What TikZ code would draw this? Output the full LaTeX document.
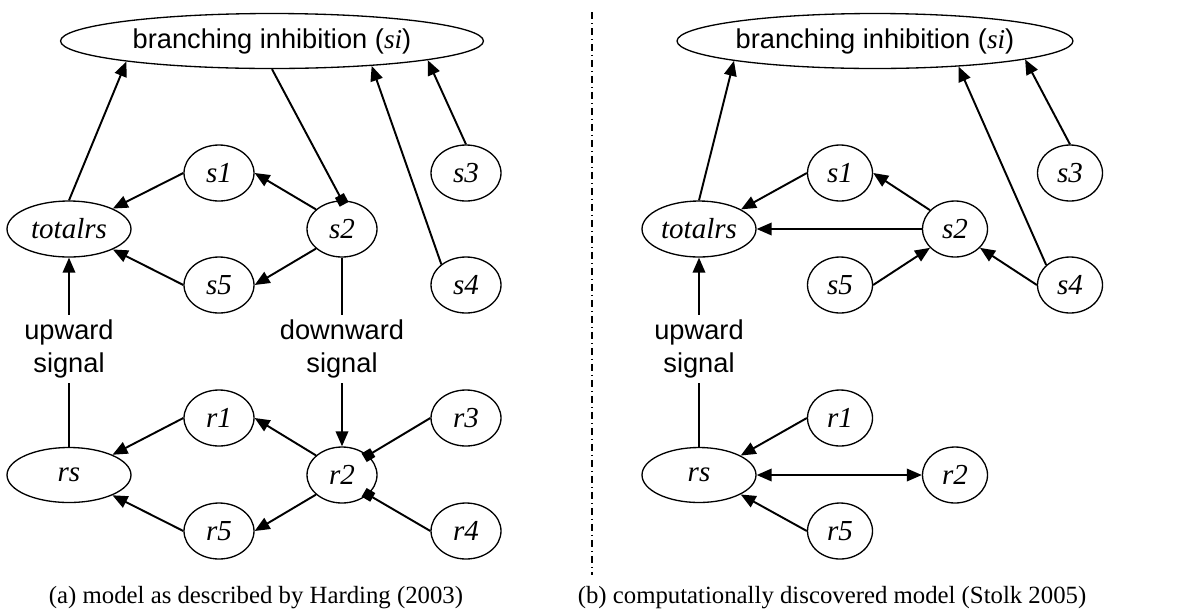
\documentclass[tikz,border=0pt]{standalone}
\usepackage{fontspec}
\setmainfont{Liberation Serif}
\setsansfont{Liberation Sans}
\usetikzlibrary{arrows.meta, shapes.geometric}

\begin{document}
\begin{tikzpicture}[x=0.02cm, y=-0.02cm,
    var/.style={ellipse, draw, line width=0.75pt, inner sep=0pt,
      minimum width=1.4cm, minimum height=1.12cm,
      font=\fontsize{16.5}{18}\selectfont\itshape},
    wide/.style={var, minimum width=2.48cm, minimum height=1.12cm},
    goal/.style={var, minimum width=8.46cm, minimum height=1.1cm,
      font=\fontsize{15.5}{18}\selectfont\sffamily},
    sigtext/.style={font=\fontsize{15.5}{18.7}\selectfont\sffamily,
      align=center, inner xsep=0pt, inner ysep=0.1cm},
    arrow/.style={-{Triangle[length=0.3cm, width=0.25cm]}, line width=1.1pt},
    twoway/.style={{Triangle[length=0.3cm, width=0.25cm]}-{Triangle[length=0.3cm, width=0.25cm]}, line width=1.1pt},
    link/.style={line width=1.1pt},
    inhibit/.style={-{Square[length=0.2cm, width=0.2cm]}, line width=1.1pt,
      shorten >=-0.09cm},
    divider/.style={line width=0.6pt,
      dash pattern=on 0.14cm off 0.08cm on 0.02cm off 0.08cm},
    capt/.style={font=\fontsize{14.1}{16}\selectfont},
  ]
  \useasboundingbox (0,0) rectangle (1179,613);

  % (a) model from the literature
  \node[goal] (si-a) at (272,41) {branching inhibition ({\rmfamily\itshape si})};
  \node[wide] (tot-a) at (69,229) {totalrs};
  \node[var] (s1-a) at (219,173) {s1};
  \node[var] (s2-a) at (342,229) {s2};
  \node[var] (s3-a) at (466,173) {s3};
  \node[var] (s4-a) at (466,285) {s4};
  \node[var] (s5-a) at (219,285) {s5};
  \node[sigtext] (up-a) at (69,349) {upward\\signal};
  \node[sigtext] (down-a) at (342,349) {downward\\signal};
  \node[wide, minimum height=1.1cm] (rs-a) at (69,475) {rs};
  \node[var] (r1-a) at (219,418) {r1};
  \node[var] (r2-a) at (342,475) {r2};
  \node[var] (r3-a) at (466,418) {r3};
  \node[var] (r4-a) at (466,531) {r4};
  \node[var] (r5-a) at (219,531) {r5};

  \draw[arrow] (tot-a.north) -- (si-a.-172);
  \draw[inhibit] (si-a.south) -- (s2-a.north);
  \draw[arrow] (s4-a.140) -- (si-a.-14);
  \draw[arrow] (s3-a.north) -- (si-a.-7.5);
  \draw[arrow] (s1-a.west) -- (tot-a.25);
  \draw[arrow] (s5-a.west) -- (tot-a.-25);
  \draw[arrow] (s2-a.143) -- (s1-a.east);
  \draw[arrow] (s2-a.-143) -- (s5-a.east);
  \draw[arrow] (up-a.north) -- (tot-a.south);
  \draw[link] (rs-a.north) -- (up-a.south);
  \draw[link] (s2-a.south) -- (down-a.north);
  \draw[arrow] (down-a.south) -- (r2-a.north);
  \draw[arrow] (r1-a.west) -- (rs-a.25);
  \draw[arrow] (r5-a.west) -- (rs-a.-25);
  \draw[arrow] (r2-a.143) -- (r1-a.east);
  \draw[arrow] (r2-a.-143) -- (r5-a.east);
  \draw[inhibit] (r3-a.west) -- (r2-a.37);
  \draw[inhibit] (r4-a.west) -- (r2-a.-37);
  \node[capt] (cap-a) at (256,598) {(a) model as described by Harding (2003)};

  \draw[divider] (592,12) -- (592,575);

  % (b) discovered model
  \begin{scope}[var/.append style={minimum width=1.3cm},
      wide/.append style={minimum width=2.28cm},
      goal/.append style={minimum width=7.92cm}]
  \node[goal] (si-b) at (875,41) {branching inhibition ({\rmfamily\itshape si})};
  \node[wide] (tot-b) at (699,229) {totalrs};
  \node[var] (s1-b) at (840,173) {s1};
  \node[var] (s2-b) at (955,229) {s2};
  \node[var] (s3-b) at (1070,173) {s3};
  \node[var] (s4-b) at (1070,285) {s4};
  \node[var] (s5-b) at (840,285) {s5};
  \node[sigtext] (up-b) at (699,349) {upward\\signal};
  \node[wide, minimum height=1.1cm] (rs-b) at (699,475) {rs};
  \node[var] (r1-b) at (840,418) {r1};
  \node[var] (r2-b) at (955,475) {r2};
  \node[var] (r5-b) at (840,531) {r5};
  \end{scope}

  \draw[arrow] (tot-b.north) -- (si-b.188);
  \draw[arrow] (s4-b.140) -- (si-b.-17.5);
  \draw[arrow] (s3-b.north) -- (si-b.-7.8);
  \draw[arrow] (s1-b.west) -- (tot-b.25);
  \draw[arrow] (s2-b.143) -- (s1-b.east);
  \draw[arrow] (s2-b.west) -- (tot-b.east);
  \draw[arrow] (s5-b.east) -- (s2-b.-143);
  \draw[arrow] (s4-b.west) -- (s2-b.-37);
  \draw[arrow] (up-b.north) -- (tot-b.south);
  \draw[link] (rs-b.north) -- (up-b.south);
  \draw[arrow] (r1-b.west) -- (rs-b.25);
  \draw[arrow] (r5-b.west) -- (rs-b.-25);
  \draw[twoway] (rs-b.east) -- (r2-b.west);
  \node[capt] (cap-b) at (832,598) {(b) computationally discovered model (Stolk 2005)};
\end{tikzpicture}
\end{document}
